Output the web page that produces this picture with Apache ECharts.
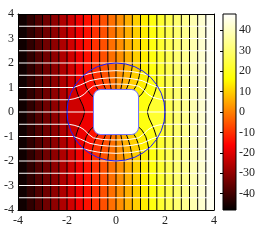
<!DOCTYPE html>
<html><head><meta charset="utf-8">
<script src="https://cdn.jsdelivr.net/npm/echarts@6/dist/echarts.min.js"></script>
<style>html,body{margin:0;padding:0;background:#fff}#c{width:266px;height:243px}</style>
</head><body><div id="c"></div>
<script>
// ---------------- data ----------------
const xRange = [-4, 4];
const yRange = [-4, 4];
const xTicks = [-4, -2, 0, 2, 4];
const yTicks = [-4, -3, -2, -1, 0, 1, 2, 3, 4];
const cbTicks = [-40, -30, -20, -10, 0, 10, 20, 30, 40];
const cbRange = [-48, 48];
const palette = ['#000000', '#ff0000', '#ffff00', '#ffffff'];

// equipotential contour levels and x position of their straight parts
const eqLevels = [-48,-44,-40,-36,-32,-28,-24,-20,-16,-12,-8,-4,0,4,8,12,16,20,24,28,32,36,40,44,48];
const eqX = [-4,-3.667,-3.333,-3,-2.667,-2.333,-2,-1.667,-1.333,-1,-0.667,-0.333,0,0.333,0.667,1,1.333,1.667,2,2.333,2.667,3,3.333,3.667,4];
// streamline heights of their straight parts
const stY = [-3.5,-3,-2.5,-2,-1.5,-1,-0.5,0,0.5,1,1.5,2,2.5,3,3.5];

// curved equipotentials (top -> bottom, null = hidden by the obstacle)
const eq_m20 = [[-1.667,4],[-1.667,1.106],[-1.628,0.94],[-1.559,0.727],[-1.483,0.54],[-1.342,0.237],[-1.28,0],[-1.342,-0.237],[-1.483,-0.54],[-1.559,-0.727],[-1.628,-0.94],[-1.667,-1.106],[-1.667,-4]];
const eq_m16 = [[-1.333,4],[-1.333,1.491],[-1.288,1.249],[-1.216,1.01],[-1.063,0.743],[-0.92,0.61],null,[-0.92,-0.61],[-1.063,-0.743],[-1.216,-1.01],[-1.288,-1.249],[-1.333,-1.491],[-1.333,-4]];
const eq_m12 = [[-1,4],[-1,1.732],[-0.955,1.494],[-0.901,1.276],[-0.812,1.041],[-0.722,0.902],null,[-0.722,-0.902],[-0.812,-1.041],[-0.901,-1.276],[-0.955,-1.494],[-1,-1.732],[-1,-4]];
const eq_m8 = [[-0.667,4],[-0.667,1.886],[-0.627,1.63],[-0.576,1.383],[-0.495,1.101],[-0.422,0.92],null,[-0.422,-0.92],[-0.495,-1.101],[-0.576,-1.383],[-0.627,-1.63],[-0.667,-1.886],[-0.667,-4]];
const eq_m4 = [[-0.333,4],[-0.333,1.972],[-0.283,1.441],[-0.236,1.128],[-0.196,0.92],null,[-0.196,-0.92],[-0.236,-1.128],[-0.283,-1.441],[-0.333,-1.972],[-0.333,-4]];
const eq_0 = [[0,4],[0,0.92],null,[0,-0.92],[0,-4]];
const eq_p4 = [[0.333,4],[0.333,1.972],[0.283,1.441],[0.236,1.128],[0.196,0.92],null,[0.196,-0.92],[0.236,-1.128],[0.283,-1.441],[0.333,-1.972],[0.333,-4]];
const eq_p8 = [[0.667,4],[0.667,1.886],[0.627,1.63],[0.576,1.383],[0.495,1.101],[0.422,0.92],null,[0.422,-0.92],[0.495,-1.101],[0.576,-1.383],[0.627,-1.63],[0.667,-1.886],[0.667,-4]];
const eq_p12 = [[1,4],[1,1.732],[0.955,1.494],[0.901,1.276],[0.812,1.041],[0.722,0.902],null,[0.722,-0.902],[0.812,-1.041],[0.901,-1.276],[0.955,-1.494],[1,-1.732],[1,-4]];
const eq_p16 = [[1.333,4],[1.333,1.491],[1.288,1.249],[1.216,1.01],[1.063,0.743],[0.92,0.61],null,[0.92,-0.61],[1.063,-0.743],[1.216,-1.01],[1.288,-1.249],[1.333,-1.491],[1.333,-4]];
const eq_p20 = [[1.667,4],[1.667,1.106],[1.628,0.94],[1.559,0.727],[1.483,0.54],[1.342,0.237],[1.28,0],[1.342,-0.237],[1.483,-0.54],[1.559,-0.727],[1.628,-0.94],[1.667,-1.106],[1.667,-4]];

// curved streamlines (left -> right)
const st_p15 = [[-4,1.5],[-1.323,1.5],[-1.097,1.566],[-0.771,1.63],[-0.519,1.662],[0,1.687],[0.519,1.662],[0.771,1.63],[1.097,1.566],[1.323,1.5],[4,1.5]];
const st_p10 = [[-4,1],[-1.732,1],[-1.459,1.102],[-1.064,1.281],[-0.659,1.36],[-0.362,1.387],[0,1.398],[0.362,1.387],[0.659,1.36],[1.064,1.281],[1.459,1.102],[1.732,1],[4,1]];
const st_p05 = [[-4,0.5],[-1.936,0.5],[-1.71,0.54],[-1.476,0.615],[-1.289,0.731],[-1.141,0.891],[-0.924,1.053],[-0.547,1.122],[-0.29,1.136],[0,1.141],[0.29,1.136],[0.547,1.122],[0.924,1.053],[1.141,0.891],[1.289,0.731],[1.476,0.615],[1.71,0.54],[1.936,0.5],[4,0.5]];
const st_0 = [[-4,0],[-0.92,0],null,[0.92,0],[4,0]];
const st_m05 = [[-4,-0.5],[-1.936,-0.5],[-1.71,-0.54],[-1.476,-0.615],[-1.289,-0.731],[-1.141,-0.891],[-0.924,-1.053],[-0.547,-1.122],[-0.29,-1.136],[0,-1.141],[0.29,-1.136],[0.547,-1.122],[0.924,-1.053],[1.141,-0.891],[1.289,-0.731],[1.476,-0.615],[1.71,-0.54],[1.936,-0.5],[4,-0.5]];
const st_m10 = [[-4,-1],[-1.732,-1],[-1.459,-1.102],[-1.064,-1.281],[-0.659,-1.36],[-0.362,-1.387],[0,-1.398],[0.362,-1.387],[0.659,-1.36],[1.064,-1.281],[1.459,-1.102],[1.732,-1],[4,-1]];
const st_m15 = [[-4,-1.5],[-1.323,-1.5],[-1.097,-1.566],[-0.771,-1.63],[-0.519,-1.662],[0,-1.687],[0.519,-1.662],[0.771,-1.63],[1.097,-1.566],[1.323,-1.5],[4,-1.5]];

// obstacle and matching circle
const bodyHalf = 0.92;
const bodyCorner = 0.3;
const ringRadius = 2;

// ---------------- tables built from the data ----------------
const eqCurved = {'-20':eq_m20,'-16':eq_m16,'-12':eq_m12,'-8':eq_m8,'-4':eq_m4,'0':eq_0,'4':eq_p4,'8':eq_p8,'12':eq_p12,'16':eq_p16,'20':eq_p20};
const stCurved = {'-1.5':st_m15,'-1':st_m10,'-0.5':st_m05,'0':st_0,'0.5':st_p05,'1':st_p10,'1.5':st_p15};

function eqLine(i){ const c = eqCurved[String(eqLevels[i])]; return c ? c : [[eqX[i], yRange[1]], [eqX[i], yRange[0]]]; }
function stLine(j){ const c = stCurved[String(stY[j])]; return c ? c : [[xRange[0], stY[j]], [xRange[1], stY[j]]]; }
function pieces(arr){ const out=[]; let cur=[]; arr.forEach(p=>{ if(p===null){ if(cur.length) out.push(cur); cur=[]; } else cur.push(p); }); if(cur.length) out.push(cur); return out; }

const bandPolys = [];
const bandData = [];
for (let k = 0; k < eqLevels.length - 1; k++) {
  const a = eqLine(k).filter(p => p !== null);
  const b = eqLine(k + 1).filter(p => p !== null).slice().reverse();
  bandPolys.push(a.concat(b));
  bandData.push([k, (eqLevels[k] + eqLevels[k + 1]) / 2]);
}

const FONT = 'Liberation Serif';
const series = [];
series.push({
  type: 'custom', xAxisIndex: 0, yAxisIndex: 0, z: 1, clip: true, silent: true,
  data: bandData,
  renderItem: function (params, api) {
    const k = api.value(0);
    const pts = bandPolys[k].map(p => api.coord(p));
    const col = api.visual('color');
    return { type: 'polygon', shape: { points: pts }, style: { fill: col, stroke: col, lineWidth: 0.5 } };
  }
});
for (let i = 1; i < eqLevels.length - 1; i++) {
  pieces(eqLine(i)).forEach(pc => series.push({
    type: 'line', xAxisIndex: 0, yAxisIndex: 0, z: 3, data: pc, symbol: 'none', silent: true,
    lineStyle: { color: '#000', width: 1 }, animation: false
  }));
}
for (let j = 0; j < stY.length; j++) {
  pieces(stLine(j)).forEach(pc => series.push({
    type: 'line', xAxisIndex: 0, yAxisIndex: 0, z: 4, data: pc, symbol: 'none', silent: true,
    lineStyle: { color: '#ffffff', width: 1 }, animation: false
  }));
}
series.push({
  type: 'custom', xAxisIndex: 0, yAxisIndex: 0, z: 5, silent: true, data: [[0, 0]],
  renderItem: function (params, api) {
    const tl = api.coord([-bodyHalf, bodyHalf]);
    const sz = api.size([2 * bodyHalf, 2 * bodyHalf]);
    const r = api.size([bodyCorner, bodyCorner])[0];
    return { type: 'rect', shape: { x: tl[0], y: tl[1], width: sz[0], height: sz[1], r: r },
      style: { fill: '#ffffff', stroke: '#7070ff', lineWidth: 1 } };
  }
});
series.push({
  type: 'custom', xAxisIndex: 0, yAxisIndex: 0, z: 6, silent: true, data: [[0, 0]],
  renderItem: function (params, api) {
    const c = api.coord([api.value(0), api.value(1)]);
    const r = api.size([ringRadius, ringRadius])[0];
    return { type: 'circle', shape: { cx: c[0], cy: c[1], r: r }, style: { fill: 'none', stroke: '#1a1aff', lineWidth: 1 } };
  }
});
series.push({
  type: 'custom', xAxisIndex: 2, yAxisIndex: 2, z: 2, silent: true, data: [[0, cbRange[0], 1, cbRange[1]]],
  renderItem: function (params, api) {
    const tl = api.coord([api.value(0), api.value(3)]);
    const br = api.coord([api.value(2), api.value(1)]);
    return { type: 'rect', shape: { x: tl[0], y: tl[1], width: br[0] - tl[0], height: br[1] - tl[1] },
      style: { fill: { type: 'linear', x: 0, y: 1, x2: 0, y2: 0,
        colorStops: palette.map((c, i) => ({ offset: i / (palette.length - 1), color: c })) },
        stroke: '#000', lineWidth: 1 } };
  }
});

const labelStyle = { fontFamily: FONT, fontSize: 12, color: '#222' };
const option = {
  animation: false,
  backgroundColor: '#ffffff',
  textStyle: { fontFamily: FONT },
  grid: [
    { left: 18, top: 14, width: 196, height: 196 },
    { left: 223, top: 14, width: 13, height: 196 }
  ],
  visualMap: { type: 'continuous', show: false, min: cbRange[0], max: cbRange[1], dimension: 1, seriesIndex: 0, inRange: { color: palette } },
  xAxis: [
    { gridIndex: 0, type: 'value', min: xRange[0], max: xRange[1], interval: 2, position: 'bottom', z: 20,
      axisLine: { show: true, onZero: false, lineStyle: { color: '#000', width: 1 } }, axisTick: { show: false }, splitLine: { show: false },
      axisLabel: Object.assign({ margin: 5, customValues: xTicks }, labelStyle) },
    { gridIndex: 0, type: 'value', min: xRange[0], max: xRange[1], position: 'top', z: 20,
      axisLine: { show: true, onZero: false, lineStyle: { color: '#000', width: 1 } }, axisTick: { show: false }, axisLabel: { show: false }, splitLine: { show: false } },
    { gridIndex: 1, type: 'value', min: 0, max: 1, show: false }
  ],
  yAxis: [
    { gridIndex: 0, type: 'value', min: yRange[0], max: yRange[1], interval: 1, position: 'left', z: 20,
      axisLine: { show: true, onZero: false, lineStyle: { color: '#000', width: 1 } }, axisTick: { show: false }, splitLine: { show: false },
      axisLabel: Object.assign({ margin: 4, customValues: yTicks }, labelStyle) },
    { gridIndex: 0, type: 'value', min: yRange[0], max: yRange[1], position: 'right', z: 20,
      axisLine: { show: true, onZero: false, lineStyle: { color: '#000', width: 1 } }, axisTick: { show: false }, axisLabel: { show: false }, splitLine: { show: false } },
    { gridIndex: 1, type: 'value', min: cbRange[0], max: cbRange[1], position: 'right', z: 20,
      axisLine: { show: false }, splitLine: { show: false },
      axisTick: { show: true, inside: true, length: 3, customValues: cbTicks, lineStyle: { color: '#000' } },
      axisLabel: Object.assign({ margin: 3, customValues: cbTicks }, labelStyle) }
  ],
  series: series
};
const chart = echarts.init(document.getElementById('c'), null, { renderer: 'canvas' });
chart.setOption(option);
</script>
</body></html>
